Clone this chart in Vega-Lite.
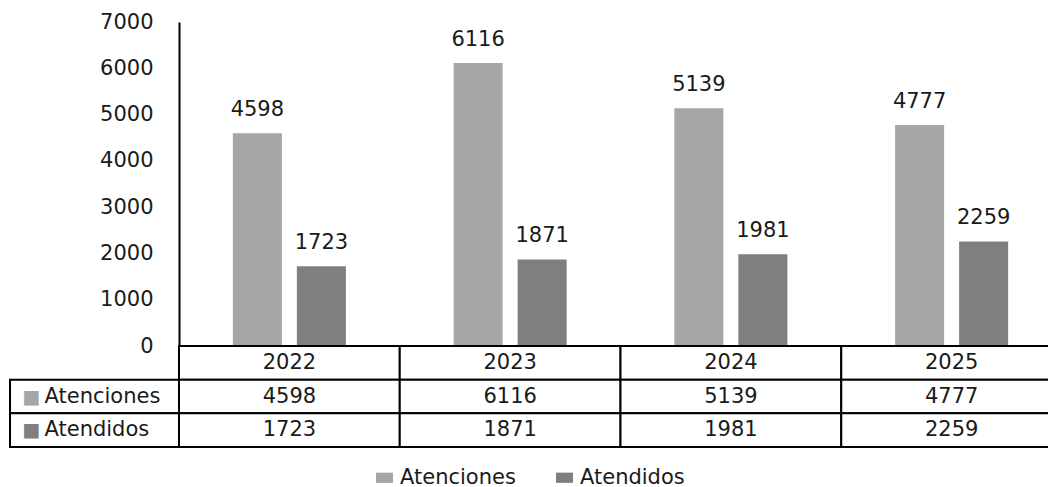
{
  "$schema": "https://vega.github.io/schema/vega-lite/v6.json",
  "autosize": {"type": "pad"},
  "padding": {"left": 9, "top": 11, "right": 0, "bottom": 0},
  "background": "white",
  "config": {
    "font": "DejaVu Sans",
    "view": {"stroke": null},
    "text": {"font": "DejaVu Sans", "fontSize": 21, "color": "#1a1a1a"}
  },
  "datasets": {
    "d": [
      {"year": "2022", "serie": "Atenciones", "value": 4598},
      {"year": "2022", "serie": "Atendidos", "value": 1723},
      {"year": "2023", "serie": "Atenciones", "value": 6116},
      {"year": "2023", "serie": "Atendidos", "value": 1871},
      {"year": "2024", "serie": "Atenciones", "value": 5139},
      {"year": "2024", "serie": "Atendidos", "value": 1981},
      {"year": "2025", "serie": "Atenciones", "value": 4777},
      {"year": "2025", "serie": "Atendidos", "value": 2259}
    ]
  },
  "columns": 2,
  "spacing": 0,
  "bounds": "flush",
  "align": "each",
  "concat": [
    {"width": 169, "height": 324, "data": {"values": []}, "mark": "text"},
    {
      "width": 883,
      "height": 324,
      "data": {"name": "d"},
      "encoding": {
        "x": {"field": "year", "type": "nominal", "axis": null, "scale": {"paddingInner": 0, "paddingOuter": 0}},
        "xOffset": {"field": "serie", "type": "nominal", "scale": {"domain": ["Atenciones", "Atendidos"], "paddingInner": 0.234, "paddingOuter": 0.841}},
        "y": {"field": "value", "type": "quantitative", "scale": {"domain": [0, 7000], "nice": false},
          "axis": {"values": [0, 1000, 2000, 3000, 4000, 5000, 6000, 7000], "format": "d", "title": null, "grid": false, "ticks": false,
            "domainColor": "#000000", "domainWidth": 2, "labelFontSize": 21, "labelFont": "DejaVu Sans", "labelColor": "#1a1a1a", "labelPadding": 26}}
      },
      "layer": [
        {
          "mark": {"type": "bar"},
          "encoding": {
            "color": {"field": "serie", "type": "nominal",
              "scale": {"domain": ["Atenciones", "Atendidos"], "range": ["#a6a6a6", "#7f7f7f"]},
              "legend": {"orient": "none", "direction": "horizontal", "legendX": 364, "legendY": 445, "title": null,
                "symbolType": "M-1,-0.6H1V0.6H-1Z", "symbolSize": 289, "symbolStrokeWidth": 0,
                "labelFontSize": 21, "labelFont": "DejaVu Sans", "labelColor": "#1a1a1a", "labelOffset": 5, "columnPadding": 38, "padding": 0}}
          }
        },
        {
          "mark": {"type": "text", "dy": -17, "baseline": "alphabetic", "align": "center"},
          "encoding": {"text": {"field": "value", "type": "quantitative", "format": "d"}}
        }
      ]
    },
    {
      "width": 169,
      "height": 101,
      "data": {"name": "d"},
      "transform": [{"filter": "datum.year === '2022'"}],
      "encoding": {
        "y": {"field": "serie", "type": "nominal", "axis": null,
          "scale": {"domain": ["Año", "Atenciones", "Atendidos"], "paddingInner": 0, "paddingOuter": 0}}
      },
      "layer": [
        {"mark": {"type": "rect", "fill": "white", "stroke": "#000000", "strokeWidth": 2},
         "encoding": {"x": {"value": 0}, "x2": {"value": "width"}}},
        {"mark": {"type": "text", "text": "■", "align": "center", "baseline": "middle", "dx": -63, "fontSize": 19},
         "encoding": {"color": {"field": "serie", "type": "nominal"}}},
        {"mark": {"type": "text", "align": "left", "baseline": "middle", "dx": -50},
         "encoding": {"text": {"field": "serie", "type": "nominal"}}}
      ]
    },
    {
      "width": 883,
      "height": 101,
      "data": {"name": "d"},
      "encoding": {
        "x": {"field": "year", "type": "nominal", "axis": null, "scale": {"paddingInner": 0, "paddingOuter": 0}}
      },
      "layer": [
        {
          "transform": [{"filter": "datum.serie === 'Atenciones'"}],
          "mark": {"type": "rect", "fill": "white", "stroke": "#000000", "strokeWidth": 2},
          "encoding": {"y": {"datum": "Año", "type": "nominal", "axis": null,
            "scale": {"domain": ["Año", "Atenciones", "Atendidos"], "paddingInner": 0, "paddingOuter": 0}}}
        },
        {
          "transform": [{"filter": "datum.serie === 'Atenciones'"}],
          "mark": {"type": "text", "baseline": "middle", "align": "center"},
          "encoding": {"y": {"datum": "Año", "type": "nominal"}, "text": {"field": "year", "type": "nominal"}}
        },
        {
          "mark": {"type": "rect", "fill": "white", "stroke": "#000000", "strokeWidth": 2},
          "encoding": {"y": {"field": "serie", "type": "nominal"}}
        },
        {
          "mark": {"type": "text", "baseline": "middle", "align": "center"},
          "encoding": {"y": {"field": "serie", "type": "nominal"}, "text": {"field": "value", "type": "quantitative", "format": "d"}}
        }
      ]
    }
  ]
}
